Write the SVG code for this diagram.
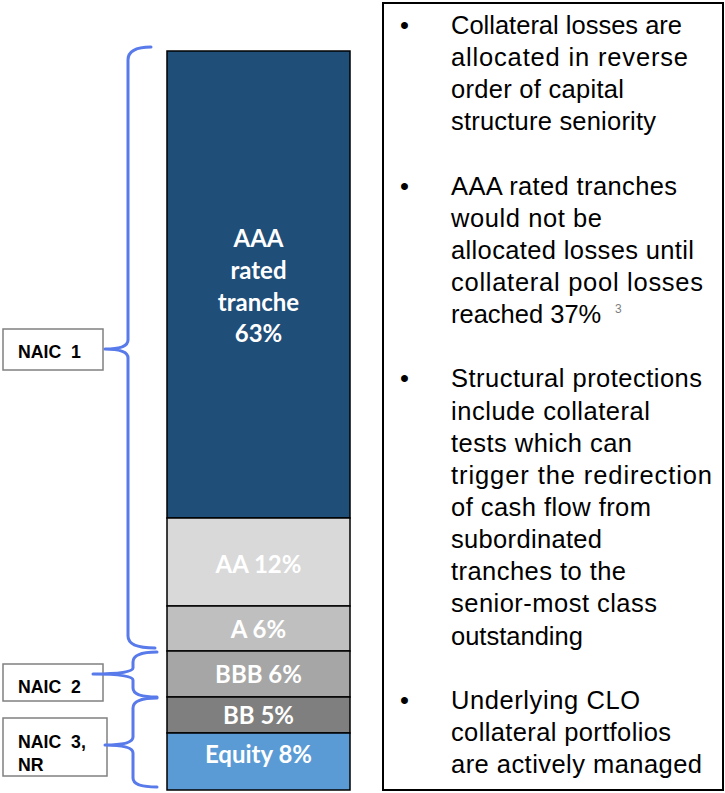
<svg xmlns="http://www.w3.org/2000/svg" width="725" height="793" viewBox="0 0 725 793">
<style>
.seg{stroke:#000;stroke-width:1.5}
.bt{font-family:Lato,"Open Sans",sans-serif;font-weight:bold;font-size:24px;fill:#fff;text-anchor:middle}
.lbl{fill:#fff;stroke:#808080;stroke-width:1.5}
.lt{font-family:"Liberation Sans",Arial,sans-serif;font-weight:bold;font-size:17.7px;fill:#000}
.br{fill:none;stroke:#587AEA;stroke-width:3;stroke-linecap:round;stroke-linejoin:round}
.tx{font-family:"Liberation Sans",Arial,sans-serif;font-size:25.5px;fill:#000}
</style>
<rect width="725" height="793" fill="#fff"/>
<g id="bar">
<rect class="seg" x="167" y="51" width="183" height="467" fill="#1F4E79"/>
<rect class="seg" x="167" y="518" width="183" height="88" fill="#D9D9D9"/>
<rect class="seg" x="167" y="606" width="183" height="45" fill="#BFBFBF"/>
<rect class="seg" x="167" y="651" width="183" height="46" fill="#A6A6A6"/>
<rect class="seg" x="167" y="697" width="183" height="36" fill="#7F7F7F"/>
<rect class="seg" x="167" y="733" width="183" height="57" fill="#5B9BD5"/>
<text class="bt" x="258.5" y="246.7">AAA</text>
<text class="bt" x="258.5" y="279.3">rated</text>
<text class="bt" x="258.5" y="310.7">tranche</text>
<text class="bt" x="258.5" y="341.7">63%</text>
<text class="bt" x="258.5" y="572.7" fill="#F2F2F2">AA 12%</text>
<text class="bt" x="258.5" y="638">A 6%</text>
<text class="bt" x="258.5" y="683">BBB 6%</text>
<text class="bt" x="258.5" y="724">BB 5%</text>
<text class="bt" x="258.5" y="763">Equity 8%</text>
</g>
<g id="naic1">
<rect class="lbl" x="3" y="329" width="100" height="41"/>
<text class="lt" x="18" y="358.3">NAIC&#160; 1</text>
</g>
<g id="naic2">
<rect class="lbl" x="3" y="664" width="100" height="37"/>
<text class="lt" x="18" y="693">NAIC&#160; 2</text>
</g>
<g id="naic3">
<rect class="lbl" x="3" y="718" width="104" height="58"/>
<text class="lt" x="18" y="748">NAIC&#160; 3,</text>
<text class="lt" x="18" y="771">NR</text>
</g>
<g id="connectors">
<path class="br" d="M151,47 Q128,47 128,60 L128,340 Q128,349 105,349 Q128,349 128,358 L128,636 Q128,648 155,648"/>
<path class="br" d="M157,652 Q133,652 133,662 L133,668 Q133,674 93,674 Q133,674 133,680 L133,688 Q133,697 157,697"/>
<path class="br" d="M157,698 Q133,698 133,708 L133,737 Q133,745 105,745 Q133,745 133,753 L133,778 Q133,787 157,787"/>
</g>
<g id="textbox">
<rect x="383" y="3" width="340" height="787" fill="#fff" stroke="#000" stroke-width="2"/>
<g class="tx">
<text x="400" y="34">•</text>
<text x="451" y="34">Collateral losses are</text>
<text x="451" y="66.1" textLength="237">allocated in reverse</text>
<text x="451" y="98.3" textLength="173">order of capital</text>
<text x="451" y="130.4" textLength="205">structure seniority</text>
<text x="400" y="194.7">•</text>
<text x="451" y="194.7" textLength="226">AAA rated tranches</text>
<text x="451" y="226.8" textLength="151">would not be</text>
<text x="451" y="258.9" textLength="243">allocated losses until</text>
<text x="451" y="291" textLength="252">collateral pool losses</text>
<text x="451" y="323.2">reached 37%</text>
<text x="400" y="387.4">•</text>
<text x="451" y="387.4" textLength="251">Structural protections</text>
<text x="451" y="419.6" textLength="199">include collateral</text>
<text x="451" y="451.7" textLength="181">tests which can</text>
<text x="451" y="483.8" textLength="261">trigger the redirection</text>
<text x="451" y="516" textLength="200">of cash flow from</text>
<text x="451" y="548.1" textLength="151">subordinated</text>
<text x="451" y="580.2" textLength="175">tranches to the</text>
<text x="451" y="612.3" textLength="206">senior-most class</text>
<text x="451" y="644.5">outstanding</text>
<text x="400" y="708.7">•</text>
<text x="451" y="708.7" textLength="189">Underlying CLO</text>
<text x="451" y="740.9" textLength="220">collateral portfolios</text>
<text x="451" y="773" textLength="251">are actively managed</text>
</g>
<text x="615" y="313" font-family="Liberation Sans,Arial,sans-serif" font-size="12" fill="#7F7F7F">3</text>
</g>
</svg>
